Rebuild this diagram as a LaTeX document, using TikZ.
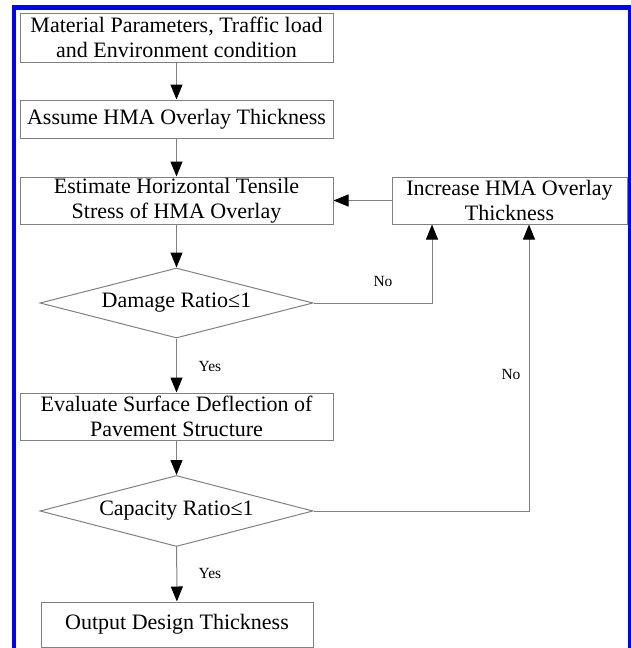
\documentclass[tikz,border=0pt]{standalone}
\usepackage{fontspec}
\setmainfont{Liberation Serif}
\usetikzlibrary{shapes.geometric,arrows.meta}
\definecolor{frameblue}{RGB}{0,0,255}
\definecolor{linegray}{RGB}{128,128,128}
\begin{document}
\begin{tikzpicture}[x=1pt,y=-1pt,
  box/.style={draw=linegray, line width=1pt, rectangle, inner sep=0pt, align=center, font=\fontsize{22}{25.5}\selectfont},
  dec/.style={draw=linegray, line width=1pt, diamond, aspect=3.9, inner sep=0pt, minimum width=273pt, minimum height=70pt, font=\fontsize{22}{25.5}\selectfont},
  conn/.style={draw=linegray, line width=1pt, -{Triangle[length=15pt,width=12pt,color=black]}},
  lab/.style={font=\fontsize{15.5}{18}\selectfont, inner sep=0pt}
]
\useasboundingbox (0,0) rectangle (630,648);
\draw[frameblue, line width=4.5pt] (14,660) -- (14,7.5) -- (630,7.5) -- (630,660);

\node[box, minimum width=313pt, minimum height=49pt] (b1) at (176.5,37.5) {Material Parameters, Traffic load\\and Environment condition};
\node[box, minimum width=313pt, minimum height=38pt] (b2) at (176.5,119) {Assume HMA Overlay Thickness};
\node[box, minimum width=313pt, minimum height=47pt] (b3) at (176.5,200.5) {Estimate Horizontal Tensile\\Stress of HMA Overlay};
\node[box, minimum width=235pt, minimum height=47pt] (b4) at (509.5,200.5) {Increase HMA Overlay\\Thickness};
\node[dec] (d1) at (176.5,303) {Damage Ratio≤1};
\node[box, minimum width=313pt, minimum height=47pt] (b5) at (176.5,416.5) {Evaluate Surface Deflection of\\Pavement Structure};
\node[dec, minimum height=71pt] (d2) at (176.5,511) {Capacity Ratio≤1};
\node[box, minimum width=272pt, minimum height=45pt] (b6) at (177,624.5) {Output Design Thickness};

\draw[conn] (b1) -- (b2);
\draw[conn] (b2) -- (b3);
\draw[conn] (b4) -- (b3);
\draw[conn] (b3) -- (d1);
\draw[conn] (d1) -- (b5);
\draw[conn] (b5) -- (d2);
\draw[conn] (d2) -- (b6);
\draw[conn] (d1.east) -| ([xshift=-77.5pt]b4.south);
\draw[conn] (d2.east) -| ([xshift=19.5pt]b4.south);

\node[lab] (no1) at (383,281) {No};
\node[lab] (no2) at (511,374) {No};
\node[lab] (yes1) at (210,366) {Yes};
\node[lab] (yes2) at (210,573) {Yes};
\end{tikzpicture}
\end{document}
